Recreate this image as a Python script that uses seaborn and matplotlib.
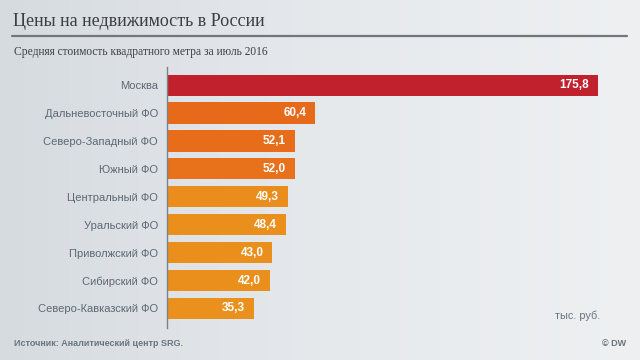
import numpy as np
import matplotlib
matplotlib.use("Agg")
import matplotlib.pyplot as plt
from matplotlib.colors import LinearSegmentedColormap
import seaborn as sns
import pandas as pd

# Data
regions = ['Москва', 'Дальневосточный ФО', 'Северо-Западный ФО', 'Южный ФО',
           'Центральный ФО', 'Уральский ФО', 'Приволжский ФО', 'Сибирский ФО',
           'Северо-Кавказский ФО']
prices = [175.8, 60.4, 52.1, 52.0, 49.3, 48.4, 43.0, 42.0, 35.3]
bar_colors = ['#c0212d', '#e76a1b', '#e76d1b', '#e8711b', '#ea8d1c',
              '#ea8e1c', '#ea8f1c', '#ea8f1c', '#ea901c']

df = pd.DataFrame({'region': regions, 'price': prices})

sns.set_theme(style='white')
plt.rcParams['font.family'] = ['Liberation Sans', 'DejaVu Sans']

fig = plt.figure(figsize=(6.4, 3.6), dpi=100)

# gradient background
bg = fig.add_axes([0, 0, 1, 1], zorder=-1)
cmap = LinearSegmentedColormap.from_list('bg', ['#d6dbe0', '#e6e9ec', '#eef0f2'])
grad = np.tile(np.linspace(0, 1, 256), (64, 1))
bg.imshow(grad, aspect='auto', cmap=cmap, extent=[0, 1, 0, 1])
bg.set_axis_off()

ax = fig.add_axes([167 / 640, 1 - 328 / 360, 460 / 640, 261 / 360])
ax.patch.set_alpha(0)
sns.barplot(data=df, x='price', y='region', hue='region', palette=dict(zip(regions, bar_colors)),
            legend=False, width=0.76, saturation=1, linewidth=0, ax=ax)
ax.set_xlim(0, 187.6)
ax.set_ylim(8.7, -0.65)

for i, v in enumerate(prices):
    ax.text(v - 3.6, i, f'{v:.1f}'.replace('.', ','), ha='right', va='center',
            color='white', fontsize=8.5, fontweight='bold')

ax.set_xlabel('')
ax.set_ylabel('')
ax.set_xticks([])
ax.tick_params(axis='y', length=0, pad=6.5, labelsize=8.0, labelcolor='#5d6873')
for s in ['top', 'right', 'bottom']:
    ax.spines[s].set_visible(False)
ax.spines['left'].set_color('#7d838a')
ax.spines['left'].set_linewidth(1)

# titles and notes
fig.text(13 / 640, 1 - 21 / 360, 'Цены на недвижимость в России', family='Liberation Serif',
         fontsize=13, color='#3a3f44', va='center')
fig.add_artist(plt.Line2D([12 / 640, 627 / 640], [1 - 36 / 360] * 2, color='#72777c', lw=1.6))
fig.text(14 / 640, 1 - 52 / 360, 'Средняя стоимость квадратного метра за июль 2016',
         family='Liberation Serif', fontsize=8.3, color='#3a3f44', va='center')
fig.text(600 / 640, 1 - 316 / 360, 'тыс. руб.', fontsize=7.8, color='#6a737c',
         ha='right', va='center')
fig.text(14 / 640, 1 - 343 / 360, 'Источник: Аналитический центр SRG.', fontsize=6.5,
         color='#6a7580', fontweight='bold', va='center')
fig.text(626 / 640, 1 - 343 / 360, '© DW', fontsize=6.5, color='#6a7580',
         fontweight='bold', ha='right', va='center')

fig.savefig('out.png', dpi=100)
